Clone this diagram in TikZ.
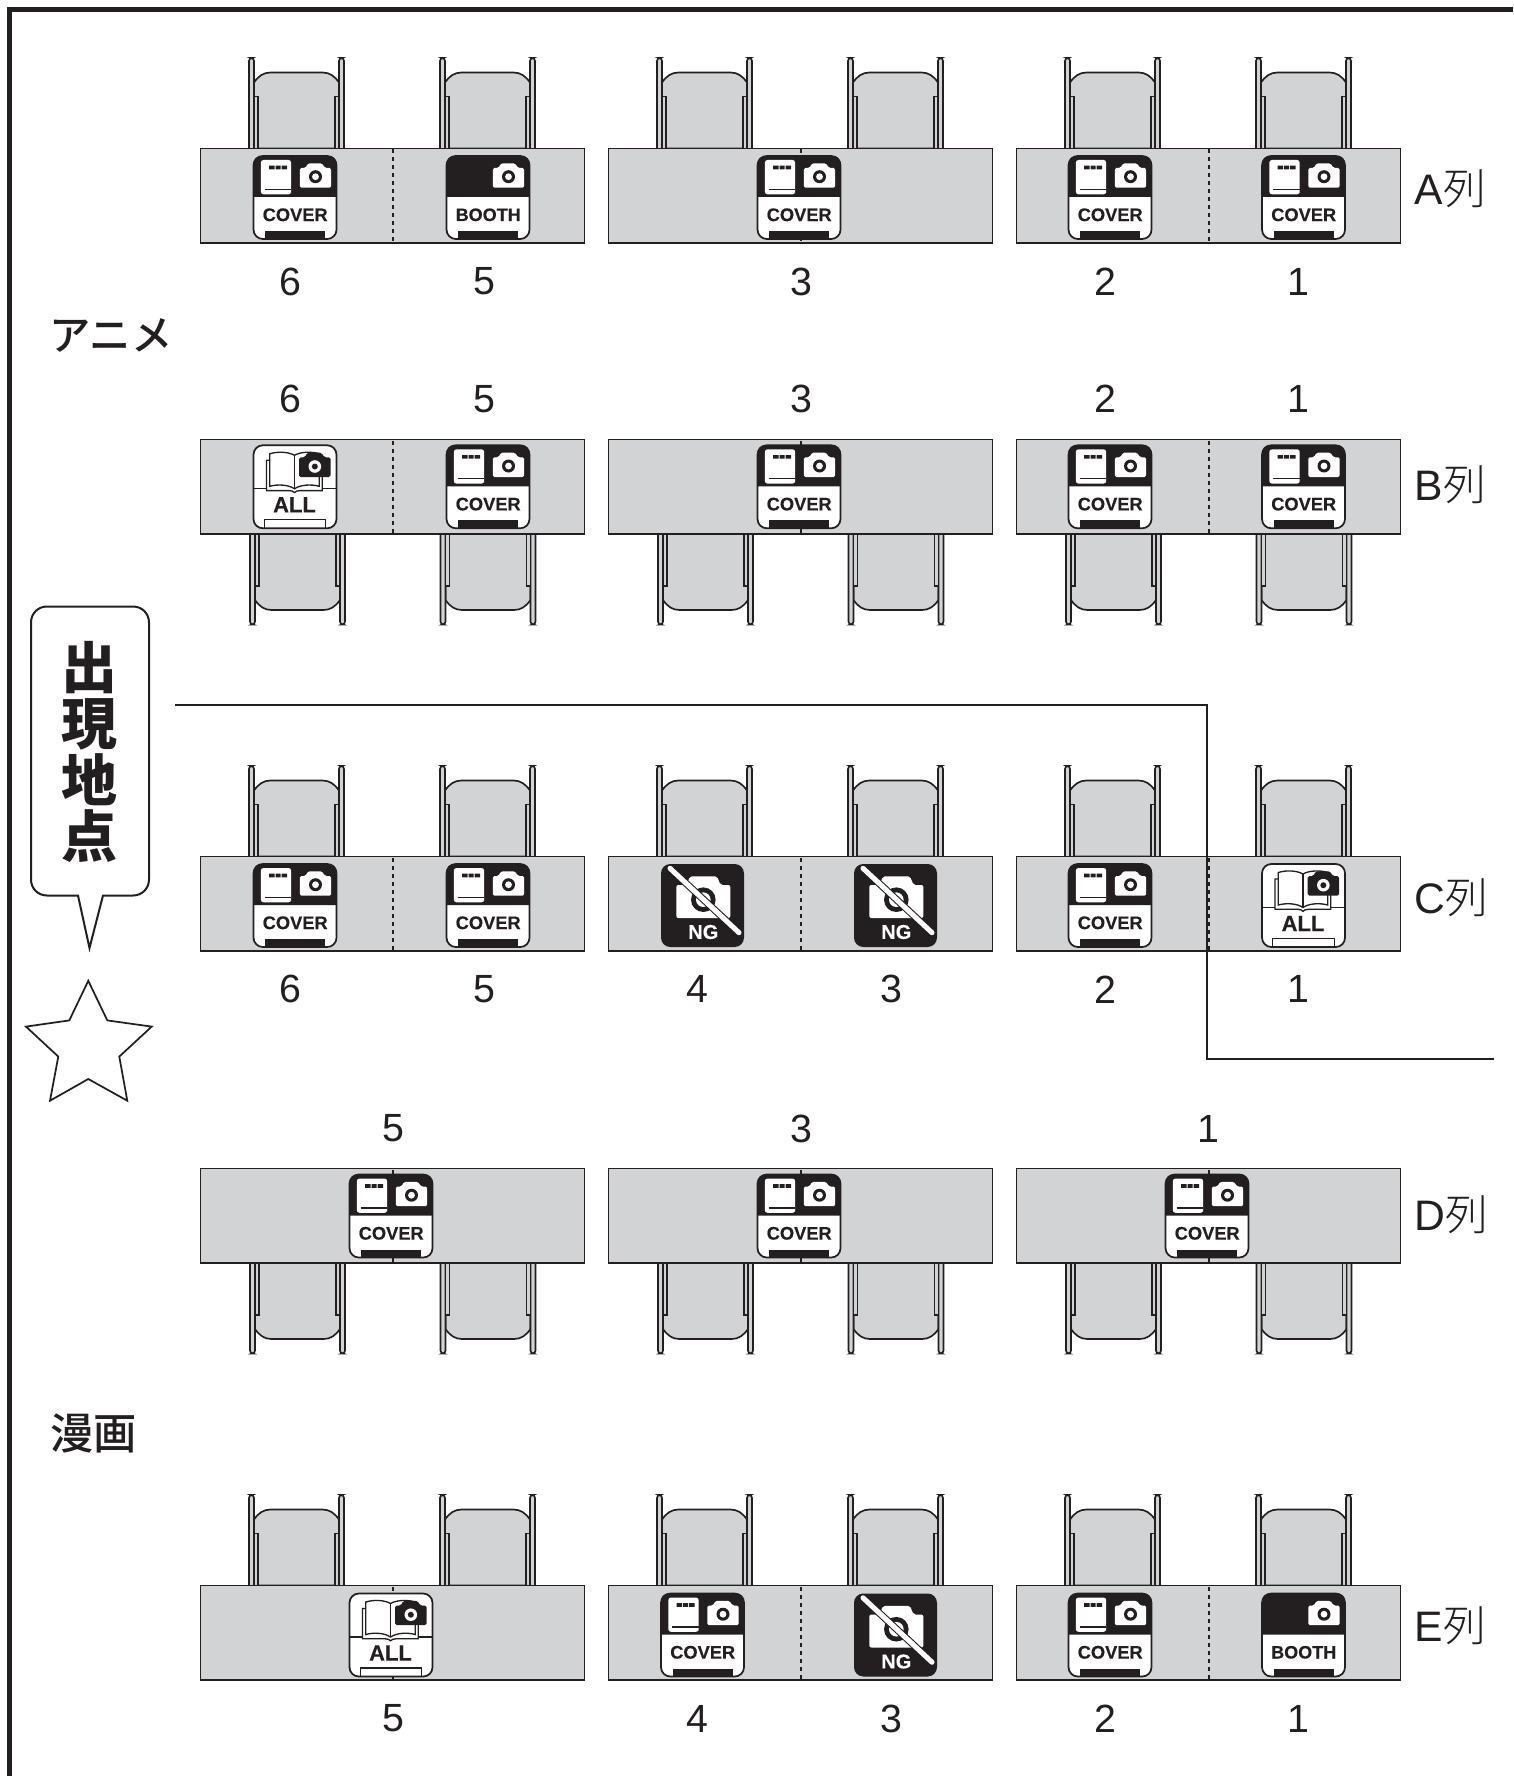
\documentclass[tikz,border=0pt]{standalone}
\usepackage{fontspec}
\setmainfont{Liberation Sans}
\newfontfamily\bdfont{Liberation Sans Bold}[FakeBold=0.25]
\newfontfamily\cjkl{Noto Sans CJK JP Light}
\newfontfamily\cjkm{Noto Sans CJK JP Medium}
\newfontfamily\cjkb{Noto Sans CJK JP Black}
\definecolor{ink}{HTML}{231F20}
\definecolor{tablegray}{HTML}{D1D3D4}
\newcount\txtcnt
\newcommand{\stepname}{\global\advance\txtcnt by 1 }
\tikzset{
  lw/.style={line width=1.25pt,draw=ink},
  chairpart/.style={lw,fill=tablegray},
  tabletop/.style={draw=ink,line width=1.45pt,fill=tablegray},
  divider/.style={draw=ink,line width=1.5pt,dash pattern=on 3pt off 3pt},
  badgeframe/.style={draw=ink,line width=1.3pt,rounded corners=7pt},
  numlabel/.style={font=\fontsize{29.5}{29.5}\selectfont,text=ink,inner sep=0pt},
  rowlabel/.style={font=\fontsize{32}{32}\selectfont,text=ink,inner sep=0pt,anchor=west},
  badgetext/.style={font=\bdfont\fontsize{#1}{#1}\selectfont,text=ink,inner sep=0pt},
  grouplabel/.style={font=\cjkm\fontsize{#1}{#1}\selectfont,text=ink,inner sep=0pt,anchor=west},
  calloutchar/.style={font=\cjkb\fontsize{42}{42}\selectfont,text=ink,inner sep=0pt},
}
% chair: table edge at local y=0, centre at local x=0, rising to y=-90.5
\newcommand{\chairshape}{%
  \path[chairpart] (-42.5,0) -- (-42.5,-66) .. controls (-38,-72.5) and (-33,-76) .. (-26,-76)
     -- (26,-76) .. controls (33,-76) and (38,-72.5) .. (42.5,-66) -- (42.5,0) -- cycle;
  \path[chairpart,rounded corners=2.2pt] (-47.5,1) -- (-47.5,-90.5) -- (-42.5,-90.5) -- (-42.5,1);
  \path[chairpart,rounded corners=2.2pt] (42.5,1) -- (42.5,-90.5) -- (47.5,-90.5) -- (47.5,1);
  \path[chairpart] (-42.5,1) -- (-42.5,-52) -- (-38.5,-52) -- (-38.5,1);
  \path[chairpart] (42.5,1) -- (42.5,-52) -- (38.5,-52) -- (38.5,1);
}
\newcommand{\chairup}[2]{\begin{scope}[shift={(#1,#2)}]\chairshape\end{scope}}
\newcommand{\chairdown}[2]{\begin{scope}[shift={(#1,#2)},yscale=-1]\chairshape\end{scope}}
% table with divider; #1 left, #2 top
\newcommand{\tabletop}[2]{%
  \path[tabletop] (#1,#2) rectangle ++(384,94.5);
  \path[divider] (#1+192,#2+1) -- (#1+192,#2+94);
}
\newcommand{\rowup}[1]{%
  \foreach \tx in {200.5,608.5,1016.5}{%
    \chairup{\tx+96}{#1}\chairup{\tx+287}{#1}\tabletop{\tx}{#1}}}
\newcommand{\rowdown}[1]{%
  \foreach \tx in {200.5,608.5,1016.5}{%
    \chairdown{\tx+97}{#1+94.5}\chairdown{\tx+287.5}{#1+94.5}\tabletop{\tx}{#1}}}
\newcommand{\camera}[1]{%
  \fill[#1,rounded corners=1.2pt] (46.3,12) -- (52,12) -- (54.5,7.3) -- (68.5,7.3) -- (71.5,12) -- (77.7,12) -- (77.7,31.7) -- (46.3,31.7) -- cycle;
}
\newcommand{\blackhead}{%
  \fill[white,rounded corners=7pt] (0,0) rectangle (83,83);
  \fill[ink] (0,41) -- (0,8) .. controls (0,3) and (3,0) .. (8,0) -- (75,0) .. controls (80,0) and (83,3) .. (83,8) -- (83,41) -- cycle;
  \fill[ink] (11.7,75) rectangle (71.7,83);
  \camera{white}
  \fill[ink] (62,20.7) circle[radius=6.5];
  \fill[white] (62,20.7) circle[radius=3.4];
  \path[badgeframe] (0,0) rectangle (83,83);
}
% badges: #1 centre x, #2 table top y
\newcommand{\bcover}[2]{\begin{scope}[shift={(#1-41.5,#2+8)}]
  \blackhead
  \fill[white,rounded corners=2pt] (7.3,38.3) -- (7.3,4) -- (37.7,4) -- (37.7,34.5) -- (37.7,38.3) -- cycle;
  \draw[ink,line width=1pt] (11,33.4) -- (37.7,33.4);
  \fill[ink] (15.7,9.7) rectangle (21,13.3) (22,9.7) rectangle (27,13.3) (28,9.7) rectangle (33.7,13.3);
  \stepname
  \node[badgetext=13.7] (t\the\txtcnt) at (41.7,58.8) {COVER};
\end{scope}}
\newcommand{\bbooth}[2]{\begin{scope}[shift={(#1-41.5,#2+8)}]
  \blackhead
  \stepname
  \node[badgetext=13.5] (t\the\txtcnt) at (41.7,58.8) {BOOTH};
\end{scope}}
\newcommand{\ball}[2]{\begin{scope}[shift={(#1-41.5,#2+8)}]
  \fill[white,rounded corners=7pt] (0,0) rectangle (83,83);
  \draw[ink,line width=1pt] (0,43.5) -- (83,43.5);
  \draw[ink,line width=1pt,fill=white] (13,15) -- (13,45.3) -- (35.5,45.3) .. controls (38,45.3) and (40,46) .. (41,47.3) .. controls (42,46) and (44,45.3) .. (46.5,45.3) -- (68.7,45.3) -- (68.7,15) -- cycle;
  \draw[ink,line width=1pt,fill=white] (16.3,8.5) .. controls (24,6) and (35,6.5) .. (41,10) .. controls (47,6.5) and (58,6) .. (65.7,8.5) -- (65.7,41) .. controls (58,38.8) and (47,39.3) .. (41,43.5) .. controls (35,39.3) and (24,38.8) .. (16.3,41) -- cycle;
  \draw[ink,line width=1pt] (41,10) -- (41,43.5);
  \begin{scope}[xshift=-0.5pt]
  \camera{ink}
  \fill[white] (62,21.2) circle[radius=6.3];
  \fill[ink] (62,21.2) circle[radius=3];
  \end{scope}
  \draw[ink,line width=1pt] (10.7,83) -- (10.7,74.5) -- (72.3,74.5) -- (72.3,83);
  \path[badgeframe] (0,0) rectangle (83,83);
  \stepname
  \node[badgetext=16.5] (t\the\txtcnt) at (41,59.5) {ALL};
\end{scope}}
\newcommand{\bng}[2]{\begin{scope}[shift={(#1-41.5,#2+8)}]
  \fill[ink,rounded corners=7pt] (0,0) rectangle (83,83);
  \fill[white,rounded corners=1.5pt] (15.3,21) -- (25.5,21) -- (29,12.3) -- (56,12.3) -- (59.5,21) -- (69.3,21) -- (69.3,54) -- (15.3,54) -- cycle;
  \fill[ink] (42.3,35.7) circle[radius=12.3];
  \fill[white] (42.3,35.7) circle[radius=7.3];
  \draw[ink,line width=5.4pt] (14,9) -- (72,63);
  \draw[white,line width=3.8pt,line cap=round] (9,4.3) -- (78,68.7);
  \stepname
  \node[badgetext=15,text=white] (t\the\txtcnt) at (42.3,68) {NG};
\end{scope}}
\newcommand{\numlab}[3]{\stepname\node[numlabel] (t\the\txtcnt) at (#1,#2+0.6) {#3};}
\begin{document}
\begin{tikzpicture}[x=0.75pt,y=-0.75pt]
\useasboundingbox (0,0) rectangle (1513,1776);
\fill[white] (0,0) rectangle (1513,1776);
% frame
\coordinate (frameA) at (1513,9.5);
\coordinate (frameB) at (9.5,9.5);
\coordinate (frameC) at (9.5,1776);
\draw[ink,line width=3.75pt] (frameA) -- (frameB) -- (frameC);
% tables and chairs
\rowup{148.5}
\rowdown{439.5}
\rowup{856.5}
\rowdown{1168.5}
\rowup{1585.5}
% walkway line (drawn over the tables)
\coordinate (lineA) at (175,704.5);
\coordinate (lineB) at (1206.5,704.5);
\coordinate (lineC) at (1206.5,1058.5);
\coordinate (lineD) at (1494,1058.5);
\draw[ink,line width=1.5pt] (lineA) -- (lineB) -- (lineC) -- (lineD);
% badges row A
\bcover{295}{148}\bbooth{488}{148}\bcover{799}{148}\bcover{1110}{148}\bcover{1303.5}{148}
% row B
\ball{295}{437.3}\bcover{488}{437.3}\bcover{799}{437.3}\bcover{1110}{437.3}\bcover{1303.5}{437.3}
% row C
\bcover{295}{856}\bcover{488}{856}\bng{702.5}{856}\bng{895.5}{856}\bcover{1110}{856}\ball{1303.5}{856}
% row D
\bcover{391}{1166.5}\bcover{799}{1166.5}\bcover{1207}{1166.5}
% row E
\ball{391}{1585.5}\bcover{702.5}{1585.5}\bng{895.5}{1585.5}\bcover{1110}{1585.5}\bbooth{1303.5}{1585.5}
% numbers
\numlab{290}{281}{6}\numlab{484}{281}{5}\numlab{801}{281}{3}\numlab{1105.8}{281}{2}\numlab{1298}{281}{1}
\numlab{290}{398.6}{6}\numlab{484}{398.6}{5}\numlab{801}{398.6}{3}\numlab{1105.8}{398.6}{2}\numlab{1298}{398.6}{1}
\numlab{290}{988.7}{6}\numlab{484}{988.7}{5}\numlab{697.2}{988.7}{4}\numlab{891}{988.7}{3}\numlab{1105.8}{988.7}{2}\numlab{1298}{988.7}{1}
\numlab{393}{1128}{5}\numlab{801}{1128}{3}\numlab{1208}{1128}{1}
\numlab{393}{1718}{5}\numlab{697.2}{1718}{4}\numlab{891}{1718}{3}\numlab{1105.8}{1718}{2}\numlab{1298}{1718}{1}
% row labels
\node[rowlabel] (rowA) at (1414.5,188.5) {A{\cjkl 列}};
\node[rowlabel] (rowB) at (1414.5,485) {B{\cjkl 列}};
\node[rowlabel] (rowC) at (1414.5,898) {C{\cjkl 列}};
\node[rowlabel] (rowD) at (1414.5,1215) {D{\cjkl 列}};
\node[rowlabel] (rowE) at (1414.5,1626) {E{\cjkl 列}};
% group labels
\node[grouplabel=31] (anime) at (49,335) {アニメ};
\node[grouplabel=32.5] (manga) at (50,1433) {漫画};
% callout
\draw[ink,line width=1.5pt,fill=white,rounded corners=0pt]
  (78,895.5) -- (89.5,948) -- (103,895.5) -- (133,895.5)
  .. controls (142,895.5) and (149,888.5) .. (149,879.5) -- (149,622.5)
  .. controls (149,613.5) and (142,606.5) .. (133,606.5) -- (47,606.5)
  .. controls (38,606.5) and (31,613.5) .. (31,622.5) -- (31,879.5)
  .. controls (31,888.5) and (38,895.5) .. (47,895.5) -- cycle;
\node[calloutchar] (ch1) at (89.5,668) {出};
\node[calloutchar] (ch2) at (89.5,724) {現};
\node[calloutchar] (ch3) at (89.5,780) {地};
\node[calloutchar] (ch4) at (89.5,836) {点};
% star
\draw[ink,line width=1.3pt,fill=white,line join=miter]
  (88.3,980.8) -- (107.3,1020.4) -- (151.7,1026.6) -- (119.3,1056.6) -- (127.3,1100.7)
  -- (88.3,1079) -- (50,1100.7) -- (58.3,1056.6) -- (26,1026.6) -- (69.3,1020.4) -- cycle;
\end{tikzpicture}
\end{document}
